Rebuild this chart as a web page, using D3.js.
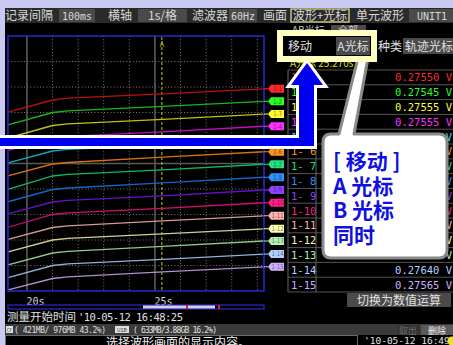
<!DOCTYPE html>
<meta charset="utf-8">
<head>
<script src="https://d3js.org/d3.v7.min.js"></script>
</head>
<style>
body { margin: 0; background: #000; }
svg { display: block; }
text { font-family: "Noto Sans CJK SC", sans-serif; }
.mono { font-family: "DejaVu Sans Mono", monospace; }
</style>
<body>
<svg></svg>
<script>

// time points (s) of each trace and levels (divisions from bottom)
const times = [19.26, 21.0, 21.6, 25.3, 29.26];
const channels = ["1-1","1-2","1-3","1-4","1-5","1-6","1-7","1-8","1-9","1-10","1-11","1-12","1-13","1-14","1-15"];
const traceLevels = [
  [7.01, 7.49, 7.56, 7.73, 7.93],
  [6.51, 7.00, 7.06, 7.24, 7.44],
  [6.00, 6.49, 6.55, 6.73, 6.94],
  [5.51, 6.00, 6.06, 6.24, 6.46],
  [5.02, 5.49, 5.55, 5.73, 5.94],
  [4.51, 4.98, 5.04, 5.25, 5.46],
  [3.99, 4.51, 4.57, 4.75, 4.97],
  [3.50, 3.98, 4.04, 4.24, 4.46],
  [3.02, 3.49, 3.55, 3.73, 3.96],
  [2.50, 3.00, 3.06, 3.24, 3.46],
  [2.02, 2.49, 2.55, 2.75, 2.95],
  [1.53, 2.00, 2.06, 2.24, 2.44],
  [1.02, 1.49, 1.55, 1.75, 1.96],
  [0.52, 1.00, 1.06, 1.24, 1.45],
  [0.04, 0.49, 0.55, 0.75, 0.95]
];
const readouts = ["0.27550","0.27545","0.27555","0.27555","0.27545","0.27560","0.27550","0.27555",
                  "0.27560","0.27545","0.27550","0.27560","0.27555","0.27640","0.27565"];
const lineColors = ["#b81010","#18b818","#c0c010","#c010c0","#10a8c0","#d87010","#10b868","#1068c8",
                    "#6810c8","#d01070","#d89898","#d0d090","#90c890","#90b0d8","#b090d0"];
const tagColors = ["#ff2828","#28ff28","#ffff30","#ff30ff","#30e0ff","#ff9020","#20e080","#3090ff",
                   "#9040ff","#ff2088","#ffb0b0","#ffffb0","#b0f0b0","#b0d0ff","#d0b0ff"];
const timeTicks = [20, 25];
const cursorA = 25.27;
const calloutLines = ["[ 移动 ]", "A 光标", "B 光标", "同时"];

const svg = d3.select("svg").attr("width", 453).attr("height", 345);

// frame
svg.append("rect").attr("width", 453).attr("height", 345).attr("fill", "#000");
svg.append("rect").attr("width", 453).attr("height", 8).attr("fill", "#c9c9f2");
svg.append("rect").attr("width", 5).attr("height", 345).attr("fill", "#c9c9f2");

// top menu bar
svg.append("rect").attr("x", 5).attr("y", 8).attr("width", 448).attr("height", 15).attr("fill", "#2a2a2a");
const menu = [
  {t: "记录间隔", x: 5},
  {t: "100ms", x: 59, w: 36, box: true, mono: true},
  {t: "横轴", x: 108},
  {t: "1s/格", x: 138, w: 49, box: true},
  {t: "滤波器", x: 192},
  {t: "60Hz", x: 229, w: 28, box: true, mono: true},
  {t: "画面", x: 263},
  {t: "波形+光标", x: 291, w: 58, box: true, hi: true},
  {t: "单元波形", x: 356},
  {t: "UNIT1", x: 409, w: 46, box: true, mono: true}
];
menu.forEach(m => {
  if (m.box) {
    svg.append("rect").attr("x", m.x).attr("y", 9).attr("width", m.w).attr("height", 13)
      .attr("fill", m.hi ? "#2a2a2a" : "#4a4a4a")
      .attr("stroke", m.hi ? "#e8e8a0" : "none").attr("stroke-width", 1.2);
  }
  svg.append("text").attr("x", m.box ? m.x + m.w / 2 : m.x).attr("y", 20)
    .attr("text-anchor", m.box ? "middle" : "start")
    .attr("class", m.mono ? "mono" : null)
    .attr("font-size", m.mono ? 10 : 12).attr("fill", "#d8d8d8").text(m.t);
});

// plot area
const x = d3.scaleLinear().domain([19.26, 29.26]).range([8, 264]);
const y = d3.scaleLinear().domain([0, 10]).range([291, 36]);
const plot = svg.append("g");

d3.range(20, 30).forEach(t => {
  const solid = timeTicks.includes(t);
  plot.append("line").attr("x1", x(t)).attr("x2", x(t)).attr("y1", 36).attr("y2", 291)
    .attr("stroke", solid ? "#5a5a5a" : "#7a7a7a").attr("stroke-width", solid ? 1.6 : 1)
    .attr("stroke-dasharray", solid ? null : "1,2.2");
});
d3.range(1, 10).forEach(v => {
  const solid = v === 5;
  plot.append("line").attr("x1", 8).attr("x2", 264).attr("y1", y(v)).attr("y2", y(v))
    .attr("stroke", solid ? "#5a5a5a" : "#7a7a7a").attr("stroke-width", solid ? 1.6 : 1)
    .attr("stroke-dasharray", solid ? null : "1,2.2");
});

// cursor A
plot.append("line").attr("x1", x(cursorA)).attr("x2", x(cursorA)).attr("y1", 37).attr("y2", 291)
  .attr("stroke", "#c8c820").attr("stroke-width", 1).attr("stroke-dasharray", "3,2");
plot.append("text").attr("x", x(cursorA)).attr("y", 47).attr("text-anchor", "middle")
  .attr("font-size", 7).attr("fill", "#c8c820").attr("font-family", "DejaVu Sans").text("A");

// traces
const line = d3.line().x((d, i) => x(times[i])).y(d => y(d));
plot.selectAll(".trace").data(traceLevels).enter().append("path")
  .attr("class", "trace").attr("d", line).attr("fill", "none")
  .attr("stroke", (d, i) => lineColors[i]).attr("stroke-width", 1.3);

plot.append("rect").attr("x", 8).attr("y", 36).attr("width", 256).attr("height", 255)
  .attr("fill", "none").attr("stroke", "#2828d0").attr("stroke-width", 1.5);

// channel tags at right
traceLevels.forEach((d, i) => {
  const ty = y(d[d.length - 1]);
  svg.append("line").attr("x1", 264).attr("x2", 268).attr("y1", ty).attr("y2", ty).attr("stroke", tagColors[i]);
  svg.append("path").attr("d", `M268,${ty} L271,${ty - 4} L284,${ty - 4} L284,${ty + 4} L271,${ty + 4} Z`)
    .attr("fill", tagColors[i]);
  svg.append("text").attr("x", 277.5).attr("y", ty + 2.3).attr("text-anchor", "middle")
    .attr("font-size", 6).attr("font-family", "DejaVu Sans").attr("fill", "rgba(0,0,0,0.55)").text(channels[i]);
});

// time axis
const axis = svg.append("g").attr("transform", "translate(0,296)")
  .call(d3.axisBottom(x).tickValues(timeTicks).tickSize(0).tickFormat(d => d + "s"));
axis.select(".domain").remove();
axis.selectAll("text").attr("class", "mono").attr("font-size", 10).attr("fill", "#d0d0d0")
  .attr("text-anchor", "start").attr("dy", "0.6em").attr("dx", -1);

// scroll bar
svg.append("rect").attr("x", 8).attr("y", 305).attr("width", 256).attr("height", 4)
  .attr("fill", "#000").attr("stroke", "#2828d0").attr("stroke-width", 1.2);
svg.append("rect").attr("x", 143).attr("y", 305.5).attr("width", 72).attr("height", 3).attr("fill", "#d0d0f0");
svg.append("rect").attr("x", 186).attr("y", 305).attr("width", 2).attr("height", 4).attr("fill", "#e02020");
svg.append("rect").attr("x", 218).attr("y", 305).attr("width", 2).attr("height", 4).attr("fill", "#e02020");

svg.append("text").attr("x", 7).attr("y", 321).attr("font-size", 11.5).attr("fill", "#e0e0e0").text("测量开始时间");
svg.append("text").attr("class", "mono").attr("x", 78).attr("y", 321).attr("font-size", 10.5)
  .attr("textLength", 105).attr("fill", "#e0e0e0").text("'10-05-12 16:48:25");

// right table
const row = d3.scaleBand().domain(channels).range([70, 292]);
const table = svg.append("g");
channels.forEach((c, i) => {
  const ry = row(c);
  table.append("line").attr("x1", 288).attr("x2", 453).attr("y1", ry + row.bandwidth()).attr("y2", ry + row.bandwidth())
    .attr("stroke", "#555");
  table.append("text").attr("class", "mono").attr("x", 291).attr("y", ry + row.bandwidth() / 2 + 4)
    .attr("font-size", 10.5).attr("fill", tagColors[i]).text(c.replace(/-(\d)$/, "- $1"));
  table.append("text").attr("class", "mono").attr("x", 452).attr("y", ry + row.bandwidth() / 2 + 4)
    .attr("text-anchor", "end").attr("font-size", 10.5).attr("fill", tagColors[i]).text(readouts[i] + " V");
});
table.append("line").attr("x1", 288).attr("x2", 453).attr("y1", 70).attr("y2", 70).attr("stroke", "#555");
table.append("line").attr("x1", 288).attr("x2", 288).attr("y1", 70).attr("y2", 292).attr("stroke", "#666");
table.append("line").attr("x1", 316).attr("x2", 316).attr("y1", 70).attr("y2", 292).attr("stroke", "#666");
svg.append("text").attr("x", 290).attr("y", 67).attr("font-size", 10).attr("fill", "#d8d820")
  .text("A光标 25.270s");
// partially hidden header row
svg.append("text").attr("x", 292).attr("y", 34).attr("font-size", 10).attr("fill", "#c8c8c8").text("AB光标");
svg.append("rect").attr("x", 331).attr("y", 25).attr("width", 35).attr("height", 12).attr("fill", "#4a4a4a");
svg.append("text").attr("x", 348).attr("y", 34).attr("text-anchor", "middle").attr("font-size", 10).attr("fill", "#c8c8c8").text("全部");

// button below table
svg.append("rect").attr("x", 347).attr("y", 293).attr("width", 104).attr("height", 14).attr("fill", "#4a4a4a");
svg.append("text").attr("x", 399).attr("y", 304.5).attr("text-anchor", "middle").attr("font-size", 12)
  .attr("fill", "#e0e0e0").text("切换为数值运算");

// status bar
svg.append("rect").attr("x", 5).attr("y", 324).attr("width", 448).attr("height", 11).attr("fill", "#3a3a3a");
svg.append("rect").attr("x", 6).attr("y", 326).attr("width", 7).attr("height", 7).attr("fill", "#e0e0e0");
svg.append("text").attr("x", 9.5).attr("y", 332).attr("text-anchor", "middle").attr("font-size", 4.5)
  .attr("font-family", "DejaVu Sans").attr("fill", "#333").text("CF");
svg.append("text").attr("class", "mono").attr("x", 14).attr("y", 332.5).attr("font-size", 8)
  .attr("textLength", 92).attr("fill", "#e0e0e0").text("( 421MB/ 976MB 43.2%)");
svg.append("rect").attr("x", 115).attr("y", 326).attr("width", 14).attr("height", 7).attr("fill", "#e0e0e0");
svg.append("text").attr("x", 122).attr("y", 332).attr("text-anchor", "middle").attr("font-size", 5)
  .attr("font-family", "DejaVu Sans").attr("fill", "#333").text("USB");
svg.append("text").attr("class", "mono").attr("x", 133).attr("y", 332.5).attr("font-size", 8)
  .attr("textLength", 84).attr("fill", "#e0e0e0").text("( 633MB/3.88GB 16.2%)");
svg.append("rect").attr("x", 397).attr("y", 325).attr("width", 22).attr("height", 10).attr("fill", "#333");
svg.append("text").attr("x", 408).attr("y", 333.5).attr("text-anchor", "middle").attr("font-size", 9).attr("fill", "#6a6a6a").text("取出");
svg.append("rect").attr("x", 421).attr("y", 325).attr("width", 32).attr("height", 10).attr("fill", "#5a5a5a");
svg.append("text").attr("x", 437).attr("y", 333.5).attr("text-anchor", "middle").attr("font-size", 9).attr("fill", "#f0f0f0").text("删除");

// message bar
svg.append("rect").attr("x", 5.5).attr("y", 335.5).attr("width", 352).attr("height", 12)
  .attr("fill", "#000").attr("stroke", "#6a6a6a");
svg.append("text").attr("x", 178).attr("y", 347).attr("text-anchor", "middle").attr("font-size", 12)
  .attr("fill", "#f0f0f0").text("选择波形画面的显示内容。");
svg.append("text").attr("class", "mono").attr("x", 364).attr("y", 344).attr("font-size", 9.5)
  .attr("fill", "#e0e0e0").text("'10-05-12 16:49:41");
svg.append("circle").attr("cx", 452).attr("cy", 341).attr("r", 4.5).attr("fill", "#f0e020");

// blue arrow
svg.append("path")
  .attr("d", "M-5,138 L299,138 L299,85 L291,85 L307,63 L323,85 L314,85 L314,146 L-5,146 Z")
  .attr("fill", "#0000f0").attr("stroke", "#fff").attr("stroke-width", 6)
  .attr("stroke-linejoin", "miter").attr("paint-order", "stroke");

// callout
svg.append("path")
  .attr("d", "M331,134 L339,134 L358,58 L368,58 L354,134 L439,134 Q447,134 447,142 L447,250 Q447,258 439,258 L331,258 Q323,258 323,250 L323,142 Q323,134 331,134 Z")
  .attr("fill", "#fff").attr("stroke", "#8a8a8a").attr("stroke-width", 3).attr("stroke-linejoin", "round");
svg.selectAll(".callout").data(calloutLines).enter().append("text")
  .attr("x", 333).attr("y", (d, i) => 169 + i * 24.5)
  .attr("font-size", 21).attr("font-weight", "bold").attr("fill", "#1010e0").text(d => d);

// highlighted yellow box
svg.append("rect").attr("x", 280).attr("y", 33).attr("width", 94).attr("height", 26)
  .attr("fill", "#000").attr("stroke", "#ffffc0").attr("stroke-width", 6);
svg.append("text").attr("x", 288).attr("y", 51).attr("font-size", 12).attr("fill", "#e0e0e0").text("移动");
svg.append("rect").attr("x", 336).attr("y", 37).attr("width", 34).attr("height", 18).attr("fill", "#4a4a4a");
svg.append("text").attr("x", 353).attr("y", 51).attr("text-anchor", "middle").attr("font-size", 12)
  .attr("fill", "#e0e0e0").text("A光标");
svg.append("text").attr("x", 378).attr("y", 51).attr("font-size", 12).attr("fill", "#e0e0e0").text("种类");
svg.append("rect").attr("x", 403).attr("y", 38).attr("width", 52).attr("height", 16).attr("fill", "#4a4a4a");
svg.append("text").attr("x", 405).attr("y", 51).attr("font-size", 12).attr("fill", "#e0e0e0").text("轨迹光标");

</script>
</body>
